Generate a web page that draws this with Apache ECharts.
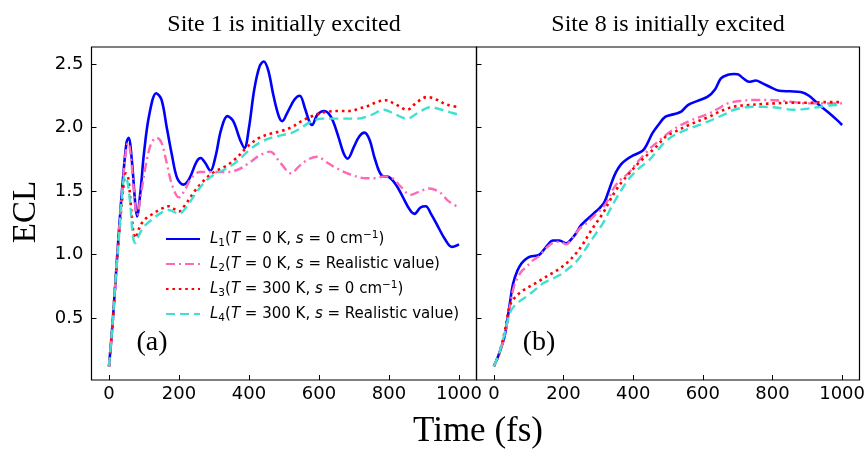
<!DOCTYPE html>
<html>
<head>
<meta charset="utf-8">
<script src="https://cdn.jsdelivr.net/npm/echarts@6/dist/echarts.min.js"></script>
<style>
html,body{margin:0;padding:0;background:#fff;}
#chart{width:868px;height:452px;}
</style>
</head>
<body>
<div id="chart"></div>
<script>
// ---- tick labels / texts ----
const timeTicks = [0, 200, 400, 600, 800, 1000];
const eclTicks = [0.5, 1.0, 1.5, 2.0, 2.5];
const panelTitles = ['Site 1 is initially excited', 'Site 8 is initially excited'];
const panelTags = ['(a)', '(b)'];
const seriesNames = ['L1', 'L2', 'L3', 'L4'];
const legendSub = ['1', '2', '3', '4'];
const legendTemp = ['0', '0', '300', '300'];
const legendRealistic = [false, true, false, true];

// ---- panel (a): Site 1 is initially excited  [time fs, ECL] ----
const siteA_L1 = [[0,0.12],[10,0.45],[20,0.85],[30,1.25],[40,1.6],[50,1.88],[56,1.92],[65,1.75],[75,1.4],[80,1.3],[90,1.5],[100,1.8],[115,2.1],[135,2.27],[150,2.22],[165,2.0],[180,1.78],[195,1.6],[213,1.55],[230,1.6],[250,1.73],[262,1.76],[275,1.72],[290,1.66],[305,1.78],[320,1.98],[338,2.09],[355,2.05],[375,1.9],[387,1.84],[400,2.0],[415,2.3],[430,2.48],[442,2.52],[455,2.45],[470,2.25],[485,2.09],[495,2.05],[510,2.12],[530,2.22],[545,2.25],[560,2.15],[572,2.05],[580,2.02],[595,2.1],[615,2.13],[635,2.08],[655,1.93],[670,1.8],[682,1.755],[700,1.85],[715,1.93],[730,1.96],[745,1.9],[760,1.75],[780,1.62],[800,1.61],[820,1.55],[840,1.45],[860,1.35],[873,1.32],[890,1.37],[905,1.38],[920,1.32],[940,1.22],[960,1.12],[980,1.06],[1000,1.08]];
const siteA_L2 = [[0,0.12],[10,0.45],[20,0.85],[30,1.25],[40,1.58],[50,1.85],[55,1.88],[65,1.7],[75,1.38],[80,1.31],[90,1.45],[105,1.7],[120,1.87],[136,1.92],[150,1.88],[165,1.72],[180,1.55],[200,1.45],[215,1.5],[235,1.6],[260,1.65],[300,1.65],[340,1.65],[370,1.67],[400,1.72],[430,1.78],[460,1.81],[490,1.72],[520,1.64],[545,1.7],[570,1.75],[595,1.77],[620,1.73],[650,1.68],[690,1.63],[735,1.6],[760,1.6],[787,1.615],[810,1.6],[835,1.53],[861,1.47],[890,1.5],[915,1.52],[945,1.49],[970,1.42],[1000,1.37]];
const siteA_L3 = [[0,0.12],[10,0.45],[20,0.85],[30,1.2],[40,1.5],[48,1.64],[55,1.6],[62,1.4],[70,1.17],[75,1.13],[85,1.2],[100,1.27],[125,1.32],[150,1.36],[170,1.38],[185,1.36],[200,1.34],[220,1.4],[245,1.5],[270,1.58],[300,1.65],[330,1.69],[360,1.75],[400,1.86],[430,1.92],[465,1.955],[490,1.97],[520,2.0],[550,2.05],[576,2.085],[600,2.11],[623,2.125],[660,2.13],[690,2.13],[715,2.15],[740,2.17],[765,2.2],[790,2.215],[820,2.18],[852,2.14],[880,2.2],[909,2.24],[935,2.22],[965,2.18],[1000,2.16]];
const siteA_L4 = [[0,0.12],[10,0.45],[20,0.85],[30,1.2],[38,1.48],[45,1.62],[52,1.58],[60,1.42],[68,1.15],[75,1.09],[85,1.15],[100,1.22],[125,1.28],[150,1.33],[170,1.35],[190,1.33],[200,1.32],[220,1.37],[245,1.47],[270,1.56],[300,1.63],[330,1.67],[360,1.72],[400,1.82],[430,1.88],[465,1.92],[495,1.94],[520,1.955],[545,1.99],[576,2.045],[610,2.07],[650,2.07],[710,2.07],[750,2.1],[785,2.14],[820,2.1],[852,2.07],[885,2.12],[919,2.16],[950,2.14],[975,2.12],[1000,2.1]];

// ---- panel (b): Site 8 is initially excited ----
const siteB_L1 = [[0,0.12],[15,0.22],[31,0.36],[45,0.6],[55,0.77],[67,0.87],[79,0.93],[92,0.965],[103,0.983],[131,1.0],[150,1.06],[170,1.11],[188,1.11],[208,1.088],[222,1.12],[236,1.167],[250,1.23],[265,1.27],[285,1.32],[303,1.364],[317,1.41],[327,1.48],[340,1.58],[351,1.65],[365,1.71],[379,1.744],[400,1.78],[427,1.817],[440,1.87],[455,1.954],[475,2.03],[493,2.085],[519,2.106],[538,2.125],[557,2.177],[585,2.21],[614,2.243],[635,2.3],[652,2.387],[672,2.415],[690,2.421],[700,2.42],[715,2.39],[733,2.36],[752,2.37],[770,2.35],[800,2.31],[819,2.29],[850,2.285],[881,2.28],[905,2.25],[933,2.18],[960,2.12],[985,2.06],[1000,2.02]];
const siteB_L2 = [[0,0.12],[15,0.22],[31,0.36],[45,0.58],[55,0.72],[65,0.8],[80,0.87],[93,0.9],[110,0.95],[131,0.99],[150,1.05],[170,1.093],[190,1.1],[208,1.08],[225,1.13],[245,1.2],[265,1.245],[290,1.31],[313,1.37],[330,1.44],[341,1.508],[360,1.58],[386,1.64],[410,1.72],[443,1.82],[480,1.91],[519,1.99],[560,2.05],[614,2.106],[645,2.15],[671,2.19],[710,2.21],[750,2.217],[786,2.217],[830,2.21],[862,2.2],[900,2.19],[950,2.19],[1000,2.19]];
const siteB_L3 = [[0,0.12],[15,0.22],[30,0.38],[46,0.6],[60,0.66],[75,0.7],[93,0.734],[117,0.77],[141,0.81],[165,0.85],[189,0.89],[212,0.94],[236,1.01],[255,1.08],[274,1.167],[293,1.245],[313,1.324],[332,1.42],[351,1.508],[370,1.58],[389,1.64],[415,1.72],[446,1.797],[470,1.86],[493,1.928],[519,1.965],[560,2.02],[614,2.08],[640,2.115],[671,2.15],[700,2.17],[729,2.176],[770,2.185],[805,2.19],[850,2.195],[900,2.195],[950,2.2],[1000,2.2]];
const siteB_L4 = [[0,0.12],[15,0.22],[30,0.37],[46,0.54],[60,0.6],[75,0.635],[93,0.668],[117,0.72],[141,0.773],[165,0.805],[189,0.838],[212,0.885],[236,0.943],[255,1.01],[274,1.088],[293,1.165],[313,1.245],[332,1.345],[351,1.44],[370,1.525],[389,1.6],[415,1.675],[446,1.744],[470,1.82],[493,1.89],[519,1.941],[560,1.99],[614,2.046],[667,2.11],[690,2.14],[725,2.16],[762,2.164],[800,2.16],[830,2.15],[857,2.14],[890,2.145],[930,2.16],[970,2.175],[1000,2.177]];

// ---- styles ----
const lineColors = ['#0000ff', '#ff69b4', '#ff0000', '#40e0d0'];
const lineTypes = ['solid', [9, 4, 2, 4], [2.6, 3.8], [9, 5]];
const lineWidths = [2.6, 2.4, 2.6, 2.4];

const chart = echarts.init(document.getElementById('chart'), null, {renderer: 'canvas'});

const panelData = [[siteA_L1, siteA_L2, siteA_L3, siteA_L4], [siteB_L1, siteB_L2, siteB_L3, siteB_L4]];

const grids = [
  {left: 91.5, top: 47, width: 385, height: 333, show: true, borderColor: '#000', borderWidth: 1.2, backgroundColor: 'transparent'},
  {left: 476.5, top: 47, width: 384, height: 333, show: true, borderColor: '#000', borderWidth: 1.2, backgroundColor: 'transparent'}
];

const tickFont = 'DejaVu Sans';
function xAxisFor(i) {
  return {
    type: 'value', gridIndex: i, min: -50, max: 1050,
    axisLine: {show: false, onZero: false},
    splitLine: {show: false},
    axisTick: {show: true, inside: true, length: 5, customValues: timeTicks, lineStyle: {color: '#000', width: 1}},
    axisLabel: {show: true, customValues: timeTicks, fontSize: 18, fontFamily: tickFont, color: '#000', margin: 5,
      formatter: v => String(v)}
  };
}
function yAxisFor(i) {
  return {
    type: 'value', gridIndex: i, min: 0.012, max: 2.634,
    axisLine: {show: false, onZero: false},
    splitLine: {show: false},
    axisTick: {show: true, inside: true, length: 5, customValues: eclTicks, lineStyle: {color: '#000', width: 1}},
    axisLabel: {show: i === 0, customValues: eclTicks, fontSize: 18, fontFamily: tickFont, color: '#000', margin: 8,
      formatter: v => Number(v).toFixed(1)}
  };
}

const series = [];
for (let p = 0; p < 2; p++) {
  for (let k = 0; k < 4; k++) {
    series.push({
      name: seriesNames[k], type: 'line', xAxisIndex: p, yAxisIndex: p,
      data: panelData[p][k], smooth: 0.35, symbol: 'none', showSymbol: false,
      lineStyle: {color: lineColors[k], width: lineWidths[k], type: lineTypes[k], cap: 'butt'},
      itemStyle: {color: lineColors[k]},
      emphasis: {disabled: true}, animation: false, z: 2 + k
    });
  }
}

function legendFormatter(name) {
  const i = seriesNames.indexOf(name);
  let s = '{sp| }{it|L}{sub|' + legendSub[i] + '}{n|(}{it|T}{n| = ' + legendTemp[i] + ' K, }{it|s}{n| = ';
  if (legendRealistic[i]) s += 'Realistic value)}';
  else s += '0 cm}{sup|−1}{n|)}';
  return s;
}

const option = {
  backgroundColor: '#fff',
  animation: false,
  title: [
    {text: panelTitles[0], left: 284, top: 13, textAlign: 'center', padding: 0,
     textStyle: {fontFamily: 'Liberation Serif', fontSize: 24, fontWeight: 'normal', color: '#000'}},
    {text: panelTitles[1], left: 668, top: 13, textAlign: 'center', padding: 0,
     textStyle: {fontFamily: 'Liberation Serif', fontSize: 24, fontWeight: 'normal', color: '#000'}}
  ],
  legend: {
    data: seriesNames, orient: 'vertical', left: 165, top: 229, padding: 0,
    itemWidth: 34, itemHeight: 14, itemGap: 5, selectedMode: false,
    itemStyle: {opacity: 0, borderWidth: 0},
    lineStyle: {inactiveWidth: 0},
    formatter: legendFormatter,
    textStyle: {
      color: '#000', fontFamily: 'DejaVu Sans', fontSize: 15,
      rich: {
        sp: {fontSize: 15, width: 5, lineHeight: 20},
        n: {fontSize: 15, fontFamily: 'DejaVu Sans', color: '#000', lineHeight: 20},
        it: {fontSize: 15, fontFamily: 'DejaVu Sans', fontStyle: 'italic', color: '#000', lineHeight: 20},
        sub: {fontSize: 10.5, fontFamily: 'DejaVu Sans', color: '#000', lineHeight: 11, padding: [9, 0, 0, 0]},
        sup: {fontSize: 10.5, fontFamily: 'DejaVu Sans', color: '#000', lineHeight: 11, padding: [0, 0, 8, 0]}
      }
    }
  },
  grid: grids,
  xAxis: [xAxisFor(0), xAxisFor(1)],
  yAxis: [yAxisFor(0), yAxisFor(1)],
  series: series,
  graphic: [
    {type: 'text', x: 26, y: 212, rotation: Math.PI / 2,
     style: {text: 'ECL', font: '33px "Liberation Serif"', fill: '#000', align: 'center', verticalAlign: 'middle', textAlign: 'center', textVerticalAlign: 'middle'}},
    {type: 'text', x: 478, y: 432,
     style: {text: 'Time (fs)', font: '35px "Liberation Serif"', fill: '#000', align: 'center', verticalAlign: 'middle', textAlign: 'center', textVerticalAlign: 'middle'}},
    {type: 'text', x: 152, y: 343,
     style: {text: panelTags[0], font: '28px "Liberation Serif"', fill: '#000', align: 'center', verticalAlign: 'middle', textAlign: 'center', textVerticalAlign: 'middle'}},
    {type: 'text', x: 539, y: 343,
     style: {text: panelTags[1], font: '28px "Liberation Serif"', fill: '#000', align: 'center', verticalAlign: 'middle', textAlign: 'center', textVerticalAlign: 'middle'}}
  ]
};
chart.setOption(option);
</script>
</body>
</html>
